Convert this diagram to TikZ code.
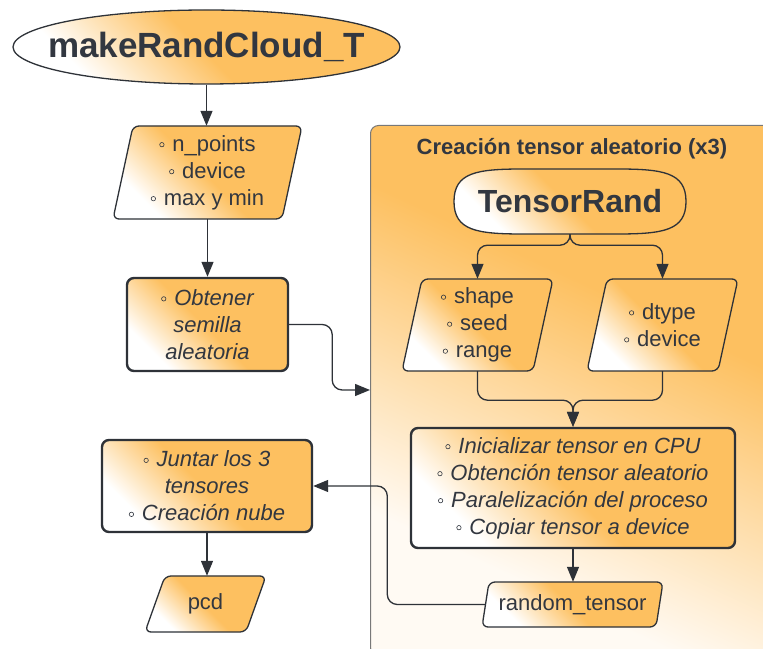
\documentclass[tikz,border=0pt]{standalone}
\usepackage{fontspec}
\setmainfont{Liberation Sans}
\usetikzlibrary{arrows.meta,shapes.geometric,calc}

\definecolor{orng}{RGB}{253,192,96}
\definecolor{ink}{RGB}{46,50,56}
\definecolor{txt}{RGB}{50,55,64}
\definecolor{grpline}{RGB}{120,120,120}
\definecolor{paper}{RGB}{255,250,243}

% diagonal warm fills: pale in the lower left, orange towards the upper right
\pgfdeclarehorizontalshading{warm}{100bp}{color(0bp)=(white); color(27bp)=(white); color(49bp)=(orng); color(100bp)=(orng)}
\pgfdeclarehorizontalshading{groupwash}{100bp}{color(0bp)=(paper); color(30bp)=(paper); color(60bp)=(orng); color(100bp)=(orng)}

% hollow list bullet
\newcommand\blt{\tikz[baseline={(0pt,-6.5pt)}]\draw[line width=0.6pt,draw=txt] (0pt,0pt) circle (2.2pt);\hspace{8pt}}

\tikzset{
  bodytext/.style={text=txt, font=\fontsize{22}{27}\selectfont, align=center, inner sep=0pt},
  italtext/.style={bodytext, font=\itshape\fontsize{22}{27}\selectfont},
  flowbox/.style={italtext, draw=ink, line width=2.4pt, rounded corners=7pt,
    shade, shading=warm, shading angle=45},
  termshape/.style={text=txt, draw=ink, line width=1.3pt, inner sep=0pt,
    shade, shading=warm, shading angle=45},
  slantshape/.style={draw=ink, line width=1.3pt, rounded corners=6pt,
    shade, shading=warm, shading angle=45},
  grpbox/.style={draw=grpline, line width=1pt, rounded corners=8pt, inner sep=0pt,
    shade, shading=groupwash, shading angle=65},
  titletext/.style={text=txt, font=\bfseries\fontsize{22}{26}\selectfont, inner sep=0pt},
  link/.style={draw=ink, line width=1.3pt, rounded corners=10pt,
    -{Triangle[length=15pt,width=12pt]}}
}

% slanted data box: name, centre, full width, height, slant offset, text
\newcommand\slanted[6]{%
  \path[slantshape] ($(#2)+(-#3/2,-#4/2)$) -- ($(#2)+(#3/2-#5,-#4/2)$)
    -- ($(#2)+(#3/2,#4/2)$) -- ($(#2)+(-#3/2+#5,#4/2)$) -- cycle;
  \node[bodytext, minimum width=#3-#5, minimum height=#4] (#1) at (#2) {#6};}

\begin{document}
\begin{tikzpicture}[x=1pt,y=1pt]
\useasboundingbox (0,0) rectangle (763,648);
\clip (0,0) rectangle (763,648);

% tensor creation panel
\node[grpbox, anchor=north west, minimum width=420, minimum height=530] (grp) at (370,523) {};
\node[titletext] (ttl) at (572,499) {Creación tensor aleatorio (x3)};

% main flow
\node[termshape, ellipse, inner xsep=-26pt, inner ysep=0pt, minimum width=387, minimum height=74,
      font=\bfseries\fontsize{35}{40}\selectfont] (mrc) at (206.5,601) {makeRandCloud\_T};
\slanted{inputs}{207.5,475.5}{189}{93}{20}{\blt n\_points\\ \blt device\\ \blt max y min}
\node[flowbox, minimum width=161, minimum height=93] (seed) at (207.5,323.5)
  {\blt Obtener\\ semilla\\ aleatoria};
\node[flowbox, minimum width=210, minimum height=92] (merge) at (207,162)
  {\blt Juntar los 3\\ tensores\\ \blt Creación nube};
\slanted{cloud}{205.5,44}{121}{56}{20}{pcd}

% inside the panel: start terminal with softly squared ends
\begin{scope}[shift={(570,446.5)}]
  \path[termshape] (-116,0) .. controls (-116,29.3) and (-92.8,32.5) .. (-46.4,32.5)
    -- (46.4,32.5) .. controls (92.8,32.5) and (116,29.3) .. (116,0)
    .. controls (116,-29.3) and (92.8,-32.5) .. (46.4,-32.5)
    -- (-46.4,-32.5) .. controls (-92.8,-32.5) and (-116,-29.3) .. (-116,0) -- cycle;
\end{scope}
\node[text=txt, inner sep=0pt, minimum width=232, minimum height=65,
      font=\bfseries\fontsize{32}{36}\selectfont] (trand) at (570,446.5) {TensorRand};
\slanted{args}{477.5,323}{151}{92}{20}{\blt shape\\ \blt seed\\ \blt range}
\slanted{kind}{662.5,323}{151}{92}{20}{\blt dtype\\ \blt device}
\node[flowbox, minimum width=324, minimum height=120] (work) at (573,160)
  {\blt Inicializar tensor en CPU\\ \blt Obtención tensor aleatorio\\
   \blt Paralelización del proceso\\ \blt Copiar tensor a device};
\slanted{rt}{572.5,43.5}{181}{45}{7}{random\_tensor}

% connectors
\draw[link] (mrc.south) -- (mrc.south |- inputs.north);
\draw[link] (inputs.south) -- (seed.north);
\draw[link] (seed.east) -- ++(43,0) |- ([yshift=-265pt]grp.north west);
\draw[link] (trand.south) -- ++(0,-11) -| (args.north);
\draw[link] (trand.south) -- ++(0,-11) -| (kind.north);
\draw[link] (args.south) -- ++(0,-29) -| (work.north);
\draw[link] (kind.south) -- ++(0,-29) -| (work.north);
\draw[link] (work.south) -- (work.south |- rt.north);
\draw[link] (rt.west) -- ++(-98,0) |- (merge.east);
\draw[link] (merge.south) -- (merge.south |- cloud.north);
\end{tikzpicture}
\end{document}
